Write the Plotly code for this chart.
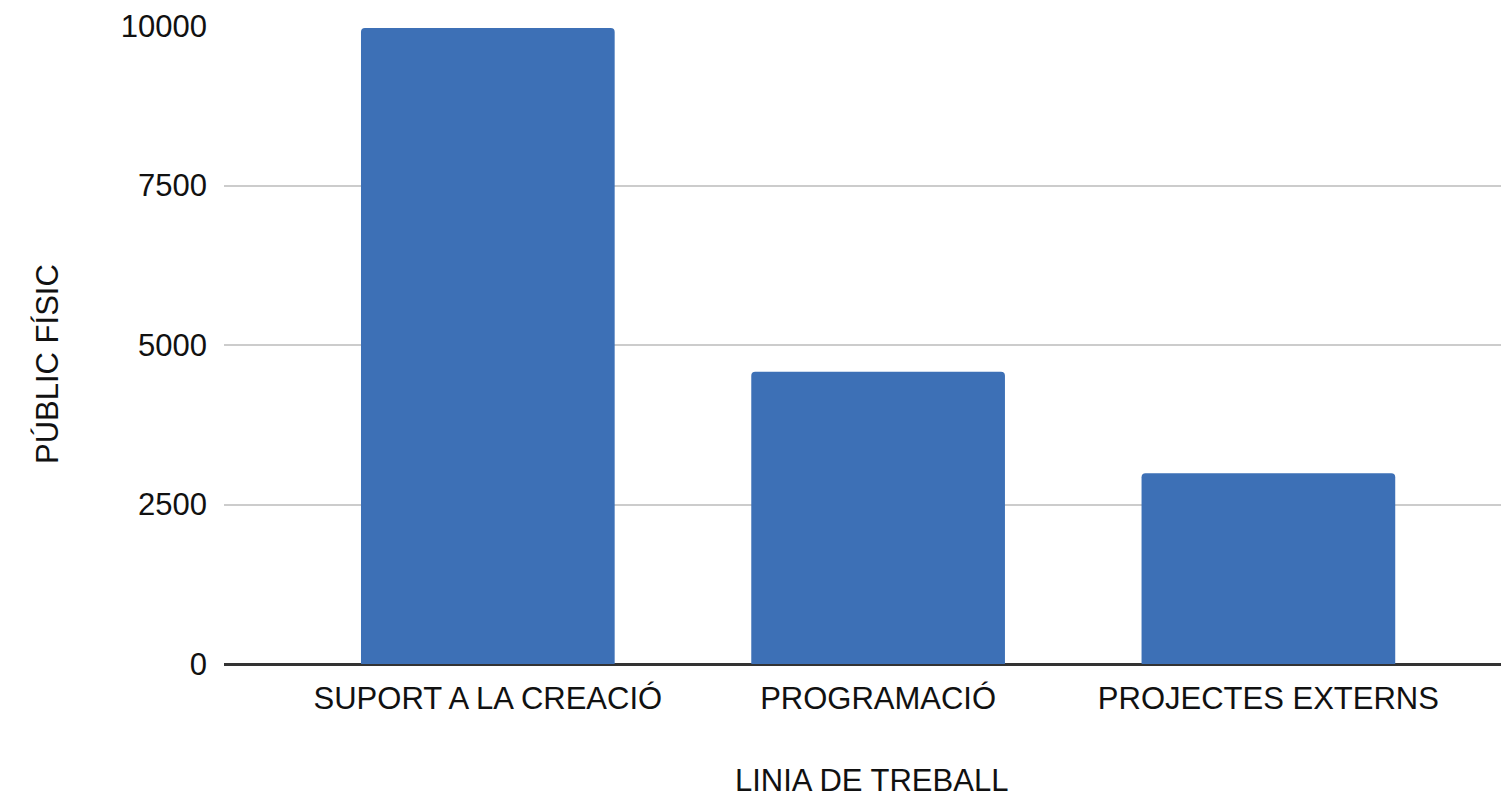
import plotly.graph_objects as go

categories = ['SUPORT A LA CREACIÓ', 'PROGRAMACIÓ', 'PROJECTES EXTERNS']
public_fisic = [9970, 4580, 2990]
y_ticks = [0, 2500, 5000, 7500, 10000]

FONT = 'Liberation Sans, Arial, sans-serif'
FS = 31

fig = go.Figure()

fig.add_trace(go.Bar(
    x=categories,
    y=public_fisic,
    marker=dict(color='#3d70b6', cornerradius=4, line=dict(width=0)),
    hovertemplate='%{x}<br>Públic físic: %{y}<extra></extra>'
))

fig.update_layout(
    width=1501,
    height=801,
    paper_bgcolor='white',
    plot_bgcolor='white',
    margin=dict(l=224, r=0, t=26, b=137),
    bargap=0.35,
    showlegend=False,
    font=dict(family=FONT, size=FS, color='#111111'),
    xaxis=dict(
        range=[-0.676, 2.596],
        showgrid=False,
        showline=False,
        ticks='',
        ticklabelstandoff=13,
        tickfont=dict(size=FS, color='#111111'),
        fixedrange=True
    ),
    yaxis=dict(
        range=[0, 10000],
        tickvals=y_ticks,
        ticktext=[str(v) for v in y_ticks],
        showgrid=True,
        gridcolor='#cccccc',
        gridwidth=2,
        zeroline=True,
        zerolinecolor='#333333',
        zerolinewidth=3,
        showline=False,
        ticks='',
        ticklabelstandoff=16,
        tickfont=dict(size=FS, color='#111111'),
        fixedrange=True
    ),
    annotations=[
        dict(text='LINIA DE TREBALL', xref='paper', yref='paper',
             x=(871 - 224) / 1277, y=-(780 - 664) / 638,
             showarrow=False, xanchor='center', yanchor='middle',
             font=dict(size=FS, color='#111111')),
        dict(text='PÚBLIC FÍSIC', xref='paper', yref='paper',
             x=-(224 - 47) / 1277, y=(664 - 364) / 638,
             showarrow=False, xanchor='center', yanchor='middle',
             textangle=-90, font=dict(size=FS, color='#111111')),
    ]
)

# drop the default 8px body margin so the figure fills the window exactly
fig.write_html("out.html",
               config={'displayModeBar': False},
               post_script="document.body.style.margin='0';document.body.style.overflow='hidden';")
